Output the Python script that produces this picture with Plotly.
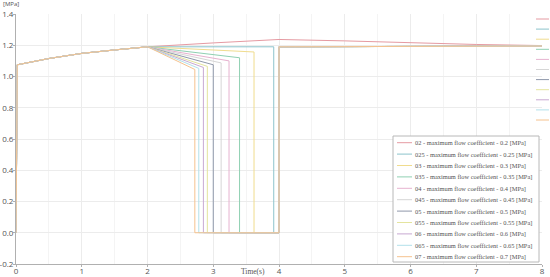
import plotly.graph_objects as go

# Curva comum de subida (0 a 2 s).
t_subida = [0.0, 0.0, 0.02, 0.5, 1.0, 1.5, 2.0]
p_subida = [0.0, 0.0, 1.075, 1.115, 1.148, 1.17, 1.19]

nomes = ['02 - maximum flow coefficient - 0.2 [MPa]',
         '025 - maximum flow coefficient - 0.25 [MPa]',
         '03 - maximum flow coefficient - 0.3 [MPa]',
         '035 - maximum flow coefficient - 0.35 [MPa]',
         '04 - maximum flow coefficient - 0.4 [MPa]',
         '045 - maximum flow coefficient - 0.45 [MPa]',
         '05 - maximum flow coefficient - 0.5 [MPa]',
         '055 - maximum flow coefficient - 0.55 [MPa]',
         '06 - maximum flow coefficient - 0.6 [MPa]',
         '065 - maximum flow coefficient - 0.65 [MPa]',
         '07 - maximum flow coefficient - 0.7 [MPa]']
cores = ['#e59aa2', '#8cc3cc', '#f0dc8e', '#8fd0b2', '#e6b2cf', '#d6d6d6',
         '#8f98aa', '#e4e49e', '#c8a9d2', '#b2e0ea', '#f5c28e']

# Momento e pressão logo antes da queda para zero.
t_queda = [None, 3.92, 3.62, 3.40, 3.24, 3.12, 3.00, 2.91, 2.85, 2.78, 2.72]
p_queda = [None, 1.19, 1.157, 1.12, 1.10, 1.087, 1.075, 1.065, 1.058, 1.052, 1.045]

# Religamento em 4 s e patamar final.
t_religa = [4.0, 4.0, 8.0]
p_religa = [0.0, 1.19, 1.195]

# Série 02 não cai: segue subindo até 4 s e depois desce devagar.
t_02 = [3.0, 4.0, 5.0, 6.0, 7.0, 8.0]
p_02 = [1.215, 1.237, 1.228, 1.215, 1.205, 1.198]

# Marcas do eixo y (com hífen comum, como no original).
ticks_y = [-0.2, 0.0, 0.2, 0.4, 0.6, 0.8, 1.0, 1.2, 1.4]
rotulos_y = ['-0.2', '0.0', '0.2', '0.4', '0.6', '0.8', '1.0', '1.2', '1.4']

fig = go.Figure()
for i, nome in enumerate(nomes):
    if t_queda[i] is None:
        x = t_subida + t_02
        y = p_subida + p_02
    else:
        x = t_subida + [t_queda[i], t_queda[i]] + t_religa
        y = p_subida + [p_queda[i], 0.0] + p_religa
    fig.add_trace(go.Scatter(x=x, y=y, mode='lines', name=nome,
                             line=dict(color=cores[i], width=1), showlegend=False))

# Legenda desenhada à mão (a nativa do plotly não fica tão compacta).
W, H, L, B = 550, 277, 16, 13
pw, ph = W - L - 8, H - 14 - B
def px(v): return (v - L) / pw
def py(v): return (H - B - v) / ph

shapes = [dict(type='rect', xref='paper', yref='paper', x0=px(393), x1=px(539),
               y0=py(136), y1=py(262), line=dict(color='#b8b8b8', width=1),
               fillcolor='white', layer='above')]
annotations = []
for i, nome in enumerate(nomes):
    yy = py(142.7 + 11.4 * i)
    shapes.append(dict(type='line', xref='paper', yref='paper', x0=px(397), x1=px(412),
                       y0=yy, y1=yy, line=dict(color=cores[i], width=1), layer='above'))
    annotations.append(dict(text=nome, xref='paper', yref='paper', x=px(413), y=yy,
                            xanchor='left', yanchor='middle', showarrow=False,
                            font=dict(family='Liberation Serif', size=6.4, color='#555')))
    # marcadores cortados na borda direita
    ym = py(19 + 10.1 * i)
    shapes.append(dict(type='line', xref='paper', yref='paper', x0=px(536), x1=px(549),
                       y0=ym, y1=ym, line=dict(color=cores[i], width=1), layer='above'))

annotations.append(dict(text='Time(s)', xref='paper', yref='paper', x=px(253), y=0,
                        yanchor='top', yshift=-1, showarrow=False,
                        font=dict(family='Liberation Serif', size=7.5, color='#555')))
annotations.append(dict(text='[MPa]', xref='paper', yref='paper', x=0, y=1,
                        xanchor='center', yanchor='bottom', xshift=-5, yshift=4,
                        showarrow=False,
                        font=dict(family='Open Sans', size=6, color='#555')))

eixo = dict(showline=True, linecolor='#b0b0b0', linewidth=1, ticks='outside',
            ticklen=2, tickcolor='#b0b0b0', gridcolor='#ececec', zeroline=False,
            automargin=False,
            tickfont=dict(family='Open Sans', size=8, color='#555'))

fig.update_layout(
    width=W, height=H,
    margin=dict(l=L, r=8, t=14, b=B),
    plot_bgcolor='white', paper_bgcolor='white',
    xaxis=dict(range=[0, 8], dtick=1, ticklabelstandoff=-3,
               minor=dict(dtick=0.5, showgrid=True, gridcolor='#f4f4f4'), **eixo),
    yaxis=dict(range=[-0.2, 1.4], tickvals=ticks_y, ticktext=rotulos_y,
               ticklabelstandoff=-2, **eixo),
    shapes=shapes, annotations=annotations,
)

# a página padrão tem margem de 8px no body; zera para o gráfico caber na janela
fig.write_html('out.html', config={'displayModeBar': False},
               post_script="document.body.style.margin='0';")
